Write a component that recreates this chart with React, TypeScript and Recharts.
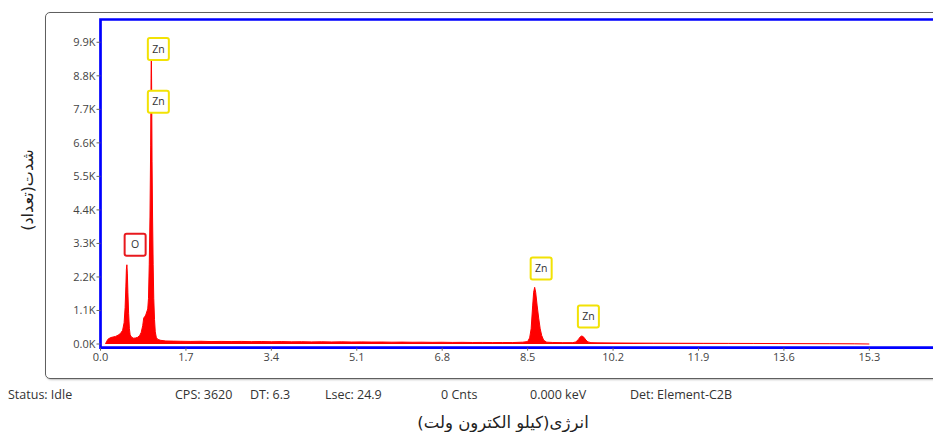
import {
  ComposedChart,
  Area,
  XAxis,
  YAxis,
  ReferenceArea,
  ReferenceDot,
} from "recharts";

// EDS spectrum, energy in keV and counts
const energyKeV = [
  0.1, 0.12, 0.15, 0.2, 0.25, 0.3, 0.35, 0.4, 0.44, 0.47,
  0.49, 0.505, 0.515, 0.525, 0.535, 0.545, 0.56, 0.575, 0.59, 0.62,
  0.66, 0.7, 0.74, 0.78, 0.81, 0.84, 0.86, 0.88, 0.9, 0.92,
  0.94, 0.955, 0.97, 0.985, 0.998, 1.006, 1.012, 1.018, 1.026, 1.036,
  1.048, 1.06, 1.075, 1.09, 1.11, 1.14, 1.2, 1.3, 1.45, 1.6,
  1.8, 2.0, 2.2, 2.4, 2.6, 2.8, 3.0, 3.2, 3.4, 3.6,
  3.8, 4.0, 4.2, 4.4, 4.6, 4.8, 5.0, 5.2, 5.4, 5.6,
  5.8, 6.0, 6.2, 6.4, 6.6, 6.8, 7.0, 7.2, 7.4, 7.6,
  7.8, 8.0, 8.2, 8.4, 8.5, 8.54, 8.57, 8.6, 8.62, 8.64,
  8.66, 8.69, 8.72, 8.75, 8.78, 8.82, 8.88, 9.0, 9.2, 9.4,
  9.46, 9.51, 9.55, 9.58, 9.62, 9.66, 9.7, 9.76, 9.9, 10.2,
  10.6, 11.0, 11.5, 12.0, 12.5, 13.0, 13.5, 14.0, 14.5, 15.0,
  15.3,
];
const counts = [
  0, 80, 160, 210, 230, 250, 290, 350, 450, 700,
  1200, 1900, 2450, 2600, 2300, 1700, 1000, 500, 300, 220,
  190, 200, 220, 280, 380, 600, 850, 900, 950, 1050,
  1150, 1500, 2600, 4200, 6500, 8700, 9700, 8400, 6000, 4200,
  2600, 1500, 800, 400, 220, 150, 120, 100, 95, 90,
  85, 90, 80, 85, 80, 85, 78, 82, 75, 80,
  72, 76, 70, 74, 68, 72, 66, 70, 64, 66,
  60, 63, 58, 60, 55, 58, 52, 55, 50, 52,
  48, 50, 48, 60, 80, 200, 500, 1250, 1700, 1860,
  1700, 1250, 850, 500, 280, 120, 60, 50, 45, 45,
  70, 150, 240, 265, 220, 130, 70, 45, 38, 35,
  30, 28, 25, 22, 20, 18, 15, 12, 10, 6,
  0,
];

const yTicks = [0, 1100, 2200, 3300, 4400, 5500, 6600, 7700, 8800, 9900];
const xTicks = [0, 1.7, 3.4, 5.1, 6.8, 8.5, 10.2, 11.9, 13.6, 15.3];

// element markers
const peakElements = ["Zn", "Zn", "O", "Zn", "Zn"];
const peakEnergy = [1.012, 1.012, 0.55, 8.63, 9.57];
const peakTagCount = [9680, 7950, 3260, 2480, 900];

const statusItems = [
  "Status: Idle",
  "CPS: 3620",
  "DT: 6.3",
  "Lsec: 24.9",
  "0 Cnts",
  "0.000 keV",
  "Det: Element-C2B",
];

const yTitle = "شدت(تعداد)";
const xTitle = "انرژی(کیلو الکترون ولت)";

const spectrum = energyKeV.map((e, i) => ({ e, c: counts[i] }));

const elementColor: Record<string, string> = { Zn: "#f2e205", O: "#e8191e" };
const statusX = [8, 175, 250, 325, 441, 530, 630];
const uiFont = "'Open Sans', 'Noto Sans', sans-serif";
const faFont = "'DejaVu Sans', sans-serif";

function PeakTag({ cx, cy, text }: { cx: number; cy: number; text: string }) {
  const x = cx + 7;
  return (
    <g>
      <rect
        x={x - 10.5}
        y={cy - 11}
        width={21}
        height={22}
        rx={2}
        fill="#fff"
        stroke={elementColor[text]}
        strokeWidth={2}
      />
      <text
        x={x}
        y={cy + 3.5}
        textAnchor="middle"
        fontSize={10.5}
        fontFamily={uiFont}
        fill="#333"
      >
        {text}
      </text>
    </g>
  );
}

export default function App() {
  return (
    <div
      style={{
        position: "fixed",
        left: 0,
        top: 0,
        width: 933,
        height: 432,
        overflow: "hidden",
        background: "#fff",
      }}
    >
      <div
        style={{
          position: "absolute",
          left: 45,
          top: 12,
          width: 940,
          height: 365,
          border: "1.5px solid #5f5f5f",
          borderRadius: 5,
          boxShadow: "1px 1px 2px rgba(0,0,0,0.25)",
        }}
      />
      <div style={{ position: "absolute", left: 0, top: 0 }}>
        <ComposedChart
          width={964.75}
          height={432}
          data={spectrum}
          margin={{ top: 19.5, right: 10, left: 45.5, bottom: 54.3 }}
        >
          <XAxis
            dataKey="e"
            type="number"
            domain={[0, 17]}
            ticks={xTicks}
            tickFormatter={(v: number) => v.toFixed(1)}
            axisLine={false}
            tickLine={{ stroke: "#666" }}
            tickSize={3}
            tickMargin={2}
            height={30}
            tick={{ fontSize: 11, fill: "#444", fontFamily: uiFont }}
            allowDataOverflow
          />
          <YAxis
            type="number"
            domain={[-121, 10648]}
            ticks={yTicks}
            tickFormatter={(v: number) => (v / 1000).toFixed(1) + "K"}
            axisLine={false}
            tickLine={{ stroke: "#666" }}
            tickSize={4}
            tickMargin={1}
            width={55}
            tick={{ fontSize: 11, fill: "#444", fontFamily: uiFont }}
            allowDataOverflow
          />
          <ReferenceArea
            x1={0}
            x2={17}
            y1={-121}
            y2={10648}
            fill="none"
            stroke="#0000ff"
            strokeWidth={2.7}
            ifOverflow="visible"
          />
          <Area
            type="linear"
            dataKey="c"
            stroke="#ff0000"
            strokeWidth={1}
            fill="#ff0000"
            fillOpacity={1}
            dot={false}
            activeDot={false}
            isAnimationActive={false}
          />
          {peakElements.map((el, i) => (
            <ReferenceDot
              key={i}
              x={peakEnergy[i]}
              y={peakTagCount[i]}
              r={0}
              ifOverflow="visible"
              shape={(p: any) => <PeakTag cx={p.cx} cy={p.cy} text={el} />}
            />
          ))}
        </ComposedChart>
      </div>
      <div
        style={{
          position: "absolute",
          left: 27,
          top: 190,
          transform: "translate(-50%, -50%) rotate(-90deg)",
          whiteSpace: "nowrap",
          fontFamily: faFont,
          fontSize: 16,
          color: "#222",
          direction: "rtl",
        }}
      >
        {yTitle}
      </div>
      {statusItems.map((s, i) => (
        <div
          key={s}
          style={{
            position: "absolute",
            left: statusX[i],
            top: 386,
            fontFamily: uiFont,
            fontSize: 12.5,
            color: "#333",
            whiteSpace: "nowrap",
          }}
        >
          {s}
        </div>
      ))}
      <div
        style={{
          position: "absolute",
          left: 503,
          top: 422,
          transform: "translate(-50%, -50%)",
          whiteSpace: "nowrap",
          fontFamily: faFont,
          fontSize: 16.5,
          color: "#222",
          direction: "rtl",
        }}
      >
        {xTitle}
      </div>
    </div>
  );
}
